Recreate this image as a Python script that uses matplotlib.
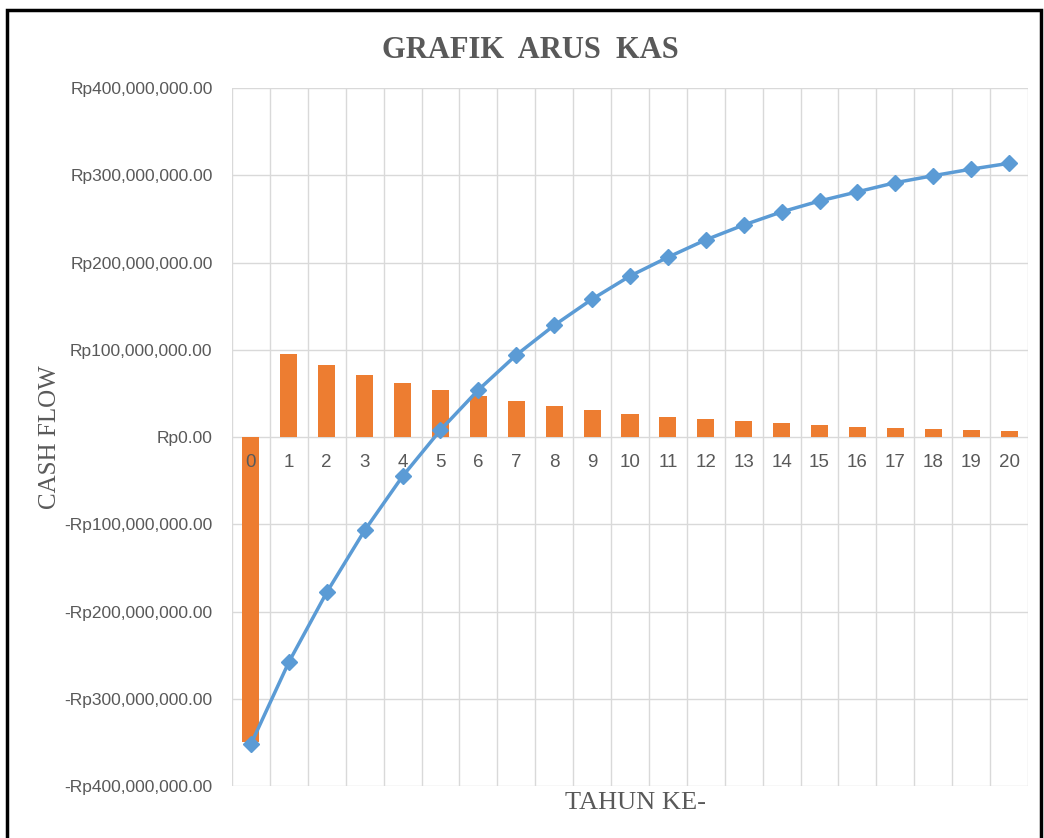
import matplotlib.pyplot as plt
from matplotlib.patches import Rectangle
from matplotlib.ticker import FuncFormatter, MultipleLocator

# data (in Rupiah)
tahun = list(range(21))
arus_kas = [-350e6, 95e6, 82.5e6, 71e6, 62e6, 54e6, 47e6, 41e6, 35.5e6, 31e6, 26.4e6,
            23e6, 20.3e6, 18e6, 15.7e6, 13.4e6, 11.5e6, 10.3e6, 8.8e6, 7.7e6, 6.5e6]
kumulatif = [-352e6, -258e6, -178e6, -107e6, -45e6, 8e6, 54e6, 94e6, 128e6, 158e6, 184.5e6,
             206e6, 226e6, 243e6, 258e6, 270.5e6, 281e6, 291.5e6, 299.5e6, 307e6, 313.7e6]

ORANGE = "#ED7D31"
BLUE = "#5B9BD5"
GRID = "#D9D9D9"
TXT = "#595959"

fig = plt.figure(figsize=(10.44, 8.38), dpi=100)
ax = fig.add_axes([0.2222, 0.062, 0.7625, 0.833])

ax.bar(tahun, arus_kas, width=0.45, color=ORANGE, zorder=2)
ax.plot(tahun, kumulatif, color=BLUE, lw=2.5, marker="D", ms=8, zorder=3)

ax.set_xlim(-0.5, 20.5)
ax.set_ylim(-400e6, 400e6)
ax.yaxis.set_major_locator(MultipleLocator(100e6))


def rupiah(v, pos):
    if v == 0:
        return "Rp0.00"
    s = f"Rp{abs(v):,.2f}"
    return "-" + s if v < 0 else s


ax.yaxis.set_major_formatter(FuncFormatter(rupiah))
ax.tick_params(axis="y", length=0, pad=14, labelsize=12.5, labelcolor=TXT)
for lab in ax.get_yticklabels():
    lab.set_family("Liberation Sans")

# vertical gridlines between categories, horizontal at each 100M
ax.set_xticks([x - 0.5 for x in range(22)], minor=True)
ax.grid(True, which="minor", axis="x", color=GRID, lw=1, zorder=0)
ax.grid(True, which="major", axis="y", color=GRID, lw=1, zorder=0)
ax.set_xticks([])
for s in ax.spines.values():
    s.set_visible(False)
ax.tick_params(axis="x", which="both", length=0)

# category labels sit under the zero line
for t in tahun:
    ax.text(t, -19e6, str(t), ha="center", va="top", fontsize=13.5, color=TXT,
            family="Liberation Sans", zorder=4)

fig.text(0.508, 0.940, "GRAFIK  ARUS  KAS", ha="center", va="center",
         fontsize=22, fontweight="bold", color=TXT, family="Liberation Serif")
fig.text(0.048, 0.478, "CASH FLOW", rotation=90, ha="center", va="center",
         fontsize=18, color=TXT, family="Liberation Serif")
fig.text(0.609, 0.042, "TAHUN KE-", ha="center", va="center",
         fontsize=19, color=TXT, family="Liberation Serif")

# black frame around the chart
fig.patches.append(Rectangle((7 / 1044, -0.01), 1034 / 1044, 1 - 10 / 838 + 0.01,
                             transform=fig.transFigure, fill=False,
                             edgecolor="black", lw=2.5))

fig.savefig("out.png", dpi=100)
